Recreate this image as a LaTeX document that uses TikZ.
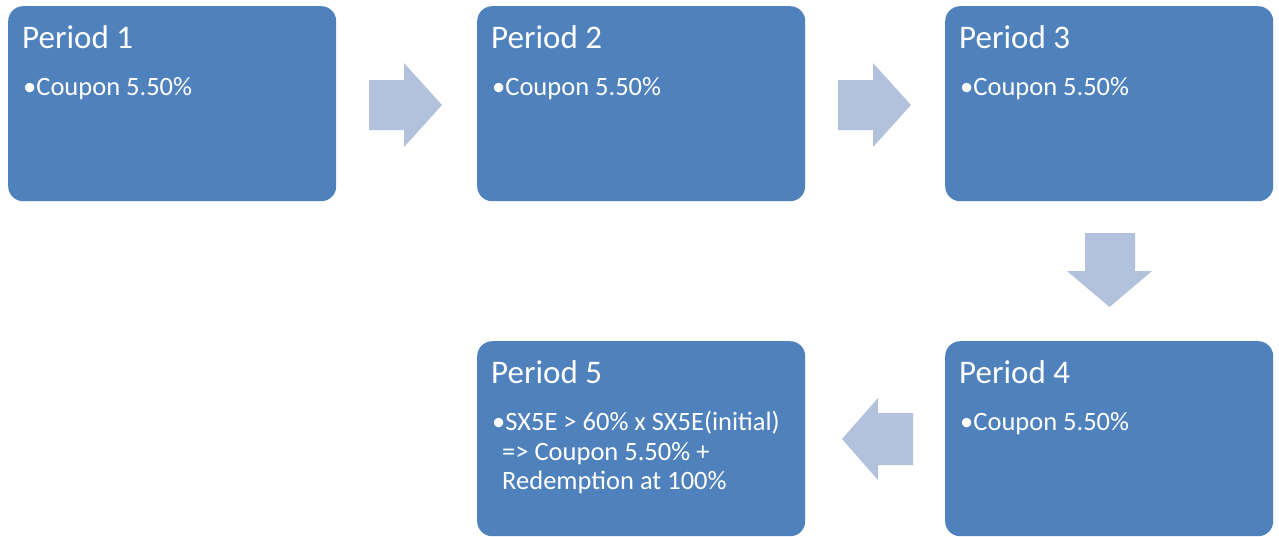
\documentclass[tikz,border=0pt]{standalone}
\usepackage{fontspec}
\setmainfont{Carlito}
\definecolor{boxblue}{HTML}{4F81BD}
\definecolor{arrowblue}{HTML}{B2C2DD}
\begin{document}
\begin{tikzpicture}[x=1pt,y=-1pt,
  period/.style={fill=boxblue,draw=none,rounded corners=15pt,minimum width=328pt,minimum height=195pt,anchor=north west,inner sep=0pt},
  ttl/.style={text=white,anchor=base west,inner sep=0pt,font=\fontsize{33}{39}\selectfont},
  bdy/.style={text=white,anchor=base west,inner sep=0pt,font=\fontsize{26.5}{29.5}\selectfont,align=left},
  blockarrow/.style={fill=arrowblue,draw=none}]
\fill[white] (0,0) rectangle (1279,536);
\node[period] (p1) at (8,6) {};
\node[period] (p2) at (477,6) {};
\node[period] (p3) at (945,6) {};
\node[period] (p4) at (945,341) {};
\node[period] (p5) at (477,341) {};
\node[ttl] (t1) at ([shift={(14pt,-42pt)}]p1.north west) {Period 1};
\node[ttl] (t2) at ([shift={(14pt,-42pt)}]p2.north west) {Period 2};
\node[ttl] (t3) at ([shift={(14pt,-42pt)}]p3.north west) {Period 3};
\node[ttl] (t4) at ([shift={(14pt,-42pt)}]p4.north west) {Period 4};
\node[ttl] (t5) at ([shift={(14pt,-42pt)}]p5.north west) {Period 5};
\node[bdy] (b1) at ([shift={(15pt,-89pt)}]p1.north west) {•Coupon 5.50\%};
\node[bdy] (b2) at ([shift={(15pt,-89pt)}]p2.north west) {•Coupon 5.50\%};
\node[bdy] (b3) at ([shift={(15pt,-89pt)}]p3.north west) {•Coupon 5.50\%};
\node[bdy] (b4) at ([shift={(15pt,-89pt)}]p4.north west) {•Coupon 5.50\%};
\node[bdy,anchor=north west] (b5) at ([shift={(15pt,-70pt)}]p5.north west)
  {\parbox[t]{310pt}{\hangindent=10pt\hangafter=1 •SX5E > 60\% x SX5E(initial)\\ => Coupon 5.50\% +\\ Redemption at 100\%}};
% block arrows
\fill[blockarrow] (369,80) -- (404,80) -- (404,63) -- (442,105) -- (404,147) -- (404,130) -- (369,130) -- cycle;
\fill[blockarrow] (838,80) -- (873,80) -- (873,63) -- (911,105) -- (873,147) -- (873,130) -- (838,130) -- cycle;
\fill[blockarrow] (1085,233) -- (1135,233) -- (1135,271) -- (1152,271) -- (1109.5,307) -- (1067,271) -- (1085,271) -- cycle;
\fill[blockarrow] (913,413) -- (878,413) -- (878,398) -- (842,439) -- (878,480) -- (878,465) -- (913,465) -- cycle;
\end{tikzpicture}
\end{document}
